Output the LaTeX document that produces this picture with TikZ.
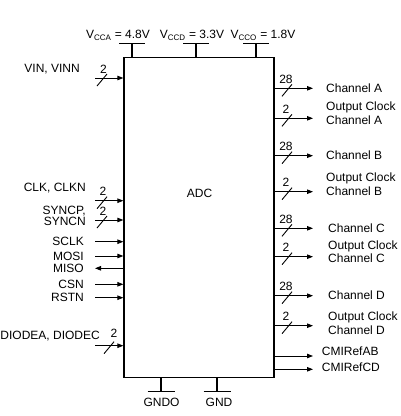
\documentclass[tikz,border=0pt]{standalone}
\usepackage{fontspec}
\setmainfont{Liberation Sans}
\usetikzlibrary{arrows.meta,calc}
\begin{document}
\begin{tikzpicture}[x=1pt,y=-1pt,
  font=\fontsize{12}{14}\selectfont,
  arr/.style={line width=0.9pt,-{Triangle[length=6pt,width=4.5pt]}},
  pinline/.style={line width=1.1pt},
  lbl/.style={inner sep=0pt},
  twoline/.style={inner sep=0pt,align=left,anchor=west,font=\fontsize{12}{13.5}\selectfont},
  slash/.pic={\draw[line width=0.9pt] (-5,8) -- (5,-4);}
]
\useasboundingbox (0,0) rectangle (400,416);

% main block
\node[draw, line width=1.3pt, inner sep=0pt, minimum width=150pt, minimum height=320pt] (adc) at (199,217.4) {};
\node[lbl] (adcL) at (199.5,193) {ADC};

% supply pins
\foreach \n/\x in {vcca/132, vccd/196, vcco/256}{
  \coordinate (\n) at (\x,43.3);
  \draw[pinline] (\n) -- (\n |- adc.north);
  \draw[pinline] ($(\n)+(-13,0)$) -- ($(\n)+(13,0)$);
}
\node[lbl] (vccaL) at (118,35) {V\textsubscript{CCA} = 4.8V};
\node[lbl] (vccdL) at (192,35) {V\textsubscript{CCD} = 3.3V};
\node[lbl] (vccoL) at (263,35) {V\textsubscript{CCO} = 1.8V};

% ground pins
\foreach \n/\x in {gndo/161, gnd/217}{
  \coordinate (\n) at (\x,391.7);
  \draw[pinline] (\n) -- (\n |- adc.south);
  \draw[pinline] ($(\n)+(-13.5,0)$) -- ($(\n)+(13.5,0)$);
}
\node[lbl] (gndoL) at (161.5,402.7) {GNDO};
\node[lbl] (gndL) at (219,402.7) {GND};

% left inputs
\coordinate (vin) at (95,78);
\draw[arr] (vin) -- (vin -| adc.west);
\pic at (102,78) {slash};
\node[lbl] (vinN) at (103.5,69) {2};
\node[lbl, anchor=east] (vinL) at (80,69) {VIN, VINN};

\coordinate (clk) at (95,200.7);
\draw[arr] (clk) -- (clk -| adc.west);
\pic at (102,200.7) {slash};
\node[lbl] (clkN) at (103,191.5) {2};
\node[lbl, anchor=east] (clkL) at (86,188.3) {CLK, CLKN};

\coordinate (sync) at (95,220);
\draw[arr] (sync) -- (sync -| adc.west);
\pic at (102,220) {slash};
\node[lbl] (syncN) at (103,211) {2};
\node[lbl, anchor=east, align=right, font=\fontsize{12}{9.8}\selectfont] (syncL) at (86,215.7) {SYNCP,\\SYNCN};

\foreach \n/\t/\y in {sclk/SCLK/241.7, mosi/MOSI/256, csn/CSN/284.3, rstn/RSTN/297.7}{
  \coordinate (\n) at (95,\y);
  \draw[arr] (\n) -- (\n -| adc.west);
  \node[lbl, anchor=east] (\n L) at (84,\y) {\t};
}
\coordinate (miso) at (95,268.3);
\draw[arr] (miso -| adc.west) -- (miso);
\node[lbl, anchor=east] (misoL) at (84,268.3) {MISO};

\coordinate (diode) at (95,345.7);
\draw[arr] (diode) -- (diode -| adc.west);
\pic at (109,345.7) {slash};
\node[lbl] (diodeN) at (114,333) {2};
\node[lbl, anchor=east] (diodeL) at (100,336) {DIODEA, DIODEC};

% right outputs
\foreach \n/\y/\b in {cha/88.3/28, oca/118.3/2, chb/155.7/28, ocb/191.7/2, chc/228.3/28, occ/256.7/2, chd/295.7/28, ocd/325.7/2}{
  \coordinate (\n) at (313,\y);
  \draw[arr] (\n -| adc.east) -- (\n);
  \pic at (287,\y) {slash};
  \node[lbl] (\n N) at (286,\y-9) {\b};
}
\node[lbl, anchor=west] (chaL) at (326,88.5) {Channel A};
\node[twoline] (ocaL) at (326,113) {Output Clock\\Channel A};
\node[lbl, anchor=west] (chbL) at (326,155.5) {Channel B};
\node[twoline] (ocbL) at (326,184.2) {Output Clock\\Channel B};
\node[lbl, anchor=west] (chcL) at (328,228) {Channel C};
\node[twoline] (occL) at (328,251.7) {Output Clock\\Channel C};
\node[lbl, anchor=west] (chdL) at (328,295) {Channel D};
\node[twoline] (ocdL) at (328,323) {Output Clock\\Channel D};

\coordinate (cmab) at (313,356);
\coordinate (cmcd) at (313,369.3);
\draw[arr] (cmab -| adc.east) -- (cmab);
\draw[arr] (cmcd -| adc.east) -- (cmcd);
\node[lbl, anchor=west] (cmabL) at (321.7,351) {CMIRefAB};
\node[lbl, anchor=west] (cmcdL) at (321.7,367.3) {CMIRefCD};
\end{tikzpicture}
\end{document}
